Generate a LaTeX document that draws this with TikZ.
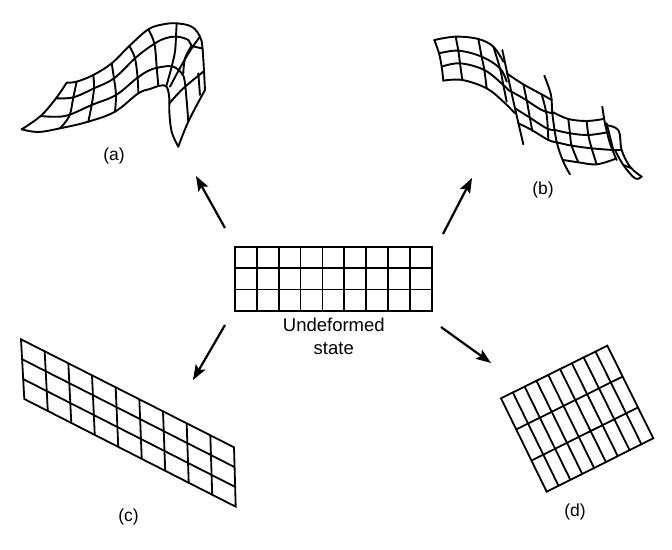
\documentclass[tikz,border=0pt]{standalone}
\usepackage{fontspec}
\setmainfont{Liberation Sans}
\usetikzlibrary{calc,arrows.meta}
\tikzset{
  mesh/.style={line width=1.9pt,line join=round,line cap=round,black},
  gridline/.style={line width=1.8pt,black,line cap=round},
  move/.style={line width=2.2pt,black,-{Stealth[length=15pt,width=11pt,inset=3pt]}},
  caption/.style={font=\fontsize{17.5}{20}\selectfont,inner sep=0pt},
  statelabel/.style={font=\fontsize{18.5}{23.5}\selectfont,inner sep=0pt,align=center}
}
% #1 top-left, #2 top-right, #3 bottom-right, #4 bottom-left
\newcommand{\meshgrid}[4]{%
  \draw[gridline] (#1)--(#2)--(#3)--(#4)--cycle;
  \foreach \k in {1,...,8}{\draw[gridline] ($(#1)!\k/9!(#2)$)--($(#4)!\k/9!(#3)$);}
  \foreach \k in {1,2}{\draw[gridline] ($(#1)!\k/3!(#4)$)--($(#2)!\k/3!(#3)$);}
}
\newcommand{\cv}[1]{\draw[mesh] plot[smooth,tension=0.6] coordinates {#1};}
\begin{document}
\begin{tikzpicture}[x=1pt,y=-1pt]
\useasboundingbox (0,0) rectangle (672,549);
% undeformed
\coordinate (ua) at (235,246.7);
\coordinate (ub) at (431.7,246.7);
\coordinate (uc) at (431.7,311);
\coordinate (ud) at (235,311);
\meshgrid{ua}{ub}{uc}{ud}
\node[statelabel] (state) at (333.8,336.5) {Undeformed\\state};
% (c)
\coordinate (ca) at (21,339.3);
\coordinate (cb) at (234,447.3);
\coordinate (cc) at (235.7,506.7);
\coordinate (cd) at (24.3,399);
\meshgrid{ca}{cb}{cc}{cd}
% (d)
\coordinate (da) at (501,398.3);
\coordinate (db) at (607.3,345.7);
\coordinate (dc) at (653.3,438.3);
\coordinate (dd) at (546.7,491.7);
\meshgrid{da}{db}{dc}{dd}
% (a)
\begin{scope}[shift={(10,10)},x=0.3333pt,y=-0.3333pt]
\cv{(35,358)(92,318)(138,265)(170,218)}
\cv{(170,218)(200,215)(250,195)(305,160)(358,108)(415,58)(460,43)(500,40)(545,50)(570,80)(578,120)(585,240)}
\cv{(35,358)(85,366)(150,355)(235,335)(315,305)(385,250)(420,237)(450,227)(470,230)(478,265)(478,305)(485,365)(505,410)}
\cv{(92,318)(165,318)(245,285)(318,255)(380,205)(420,180)(460,170)(490,170)(515,190)(525,220)(535,335)}
\cv{(138,265)(190,262)(252,235)(312,205)(375,145)(420,110)(460,87)(500,80)(535,90)(545,107)(578,115)}
\cv{(150,355)(178,318)(190,262)(200,215)}
\cv{(235,335)(245,285)(252,235)(250,195)}
\cv{(315,305)(318,255)(312,205)(305,160)}
\cv{(385,250)(383,205)(375,145)(358,108)}
\cv{(445,228)(440,170)(433,100)(415,58)}
\cv{(500,40)(498,80)(495,125)(485,170)(470,225)}
\cv{(570,80)(545,115)(515,165)(480,230)}
\cv{(478,280)(520,235)(580,185)}
\cv{(585,240)(535,335)(505,410)}
\cv{(545,107)(525,145)(520,190)}
\cv{(565,190)(570,255)}
\end{scope}
% (b)
\begin{scope}[shift={(425,25)},x=0.3333pt,y=-0.3333pt]
\cv{(28,45)(92,35)(160,42)(205,65)(235,110)}
\cv{(42,85)(100,77)(170,95)(225,130)(245,170)}
\cv{(50,125)(105,115)(178,135)(235,180)(250,195)}
\cv{(55,167)(112,165)(185,190)(235,230)(270,265)}
\cv{(28,45)(42,85)(50,125)(55,167)}
\cv{(92,35)(100,77)(105,115)(112,165)}
\cv{(160,42)(170,95)(178,135)(185,190)}
\cv{(205,65)(225,130)(235,180)(245,230)}
\cv{(232,75)(250,160)(270,250)(295,358)}
\cv{(245,145)(295,178)(350,208)(380,225)}
\cv{(250,195)(295,220)(350,255)(385,265)}
\cv{(270,250)(310,275)(365,310)(390,315)}
\cv{(280,295)(320,315)(370,345)(395,352)}
\cv{(295,178)(305,225)(315,280)(322,318)}
\cv{(350,208)(365,270)(370,345)}
\cv{(358,152)(378,210)(382,265)(395,350)(415,410)(435,448)}
\cv{(385,262)(430,282)(485,288)(535,282)}
\cv{(390,315)(435,325)(490,330)(547,322)}
\cv{(395,352)(440,362)(500,370)(562,375)}
\cv{(415,405)(460,412)(515,418)(570,402)}
\cv{(430,282)(435,325)(440,362)(460,412)}
\cv{(485,288)(490,330)(500,370)(515,418)}
\cv{(532,245)(540,295)(555,355)(575,405)}
\cv{(545,295)(565,375)}
\cv{(540,300)(580,315)(590,375)(615,425)(650,455)}
\cv{(650,455)(630,460)(595,420)(570,375)}
\cv{(562,375)(590,375)}
\cv{(595,420)(620,430)}
\end{scope}
% arrows
\coordinate (a0) at (225,228); \coordinate (a1) at (196,176);
\coordinate (b0) at (443,234); \coordinate (b1) at (472,178);
\coordinate (c0) at (225,325); \coordinate (c1) at (193,380);
\coordinate (d0) at (441,327); \coordinate (d1) at (491,363);
\draw[move] (a0)--(a1);
\draw[move] (b0)--(b1);
\draw[move] (c0)--(c1);
\draw[move] (d0)--(d1);
% labels
\node[caption] (la) at (114,156) {(a)};
\node[caption] (lb) at (543,190) {(b)};
\node[caption] (lc) at (128.5,517) {(c)};
\node[caption] (ld) at (575,512) {(d)};
\end{tikzpicture}
\end{document}
